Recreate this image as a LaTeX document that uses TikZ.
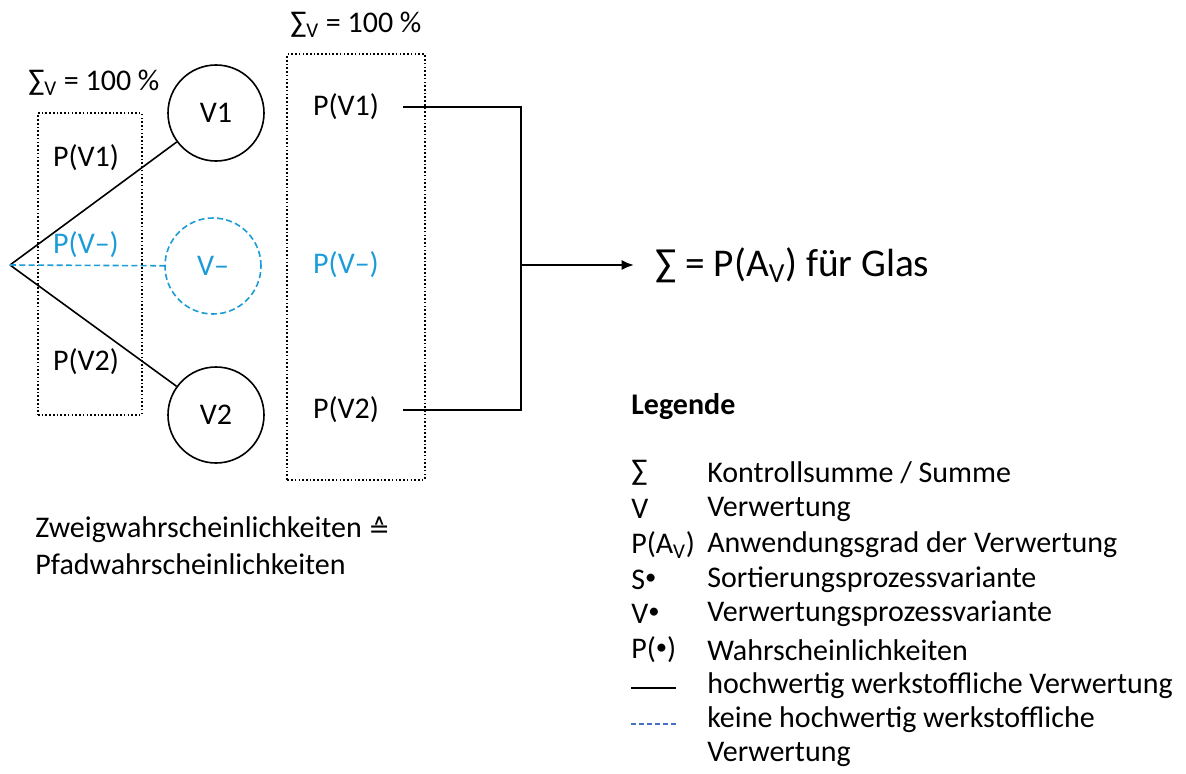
\documentclass[tikz,border=0pt]{standalone}
\usepackage{fontspec}
\setmainfont{Carlito}
\newfontfamily\symfont{DejaVu Sans}
\usetikzlibrary{arrows.meta}
\definecolor{vblue}{HTML}{1B9CD8}
\definecolor{lblue}{HTML}{4472C4}
\newcommand{\summe}{∑}
\newcommand{\pkt}{\raisebox{3.5pt}{\fontsize{17}{20}\selectfont•}}
\tikzset{
    vcircle/.style={draw, circle, line width=1.2pt, minimum size=72pt, inner sep=0pt},
    vdash/.style={dash pattern=on 4.5pt off 2.5pt},
    pbox/.style={draw, line width=1.3pt, dash pattern=on 1.2pt off 1.6pt},
    txt/.style={inner sep=0pt},
}
\begin{document}
\begin{tikzpicture}[x=0.75pt, y=-0.75pt, >={Latex[length=9pt,width=7.5pt]}, font=\fontsize{22.5}{27}\selectfont]
    \useasboundingbox (0,0) rectangle (1186,774);

        % Define the branch point and the circles of the variants
        \coordinate (S) at (10,265);
        \node[vcircle] (V1) at (216,113) {V1};
        \node[vcircle, vblue, vdash] (Vm) at (213,266) {V--};
        \node[vcircle] (V2) at (216,415) {V2};

        % Define the dotted boxes
        \node[pbox, minimum width=78pt, minimum height=226pt] (B1) at (90,264) {};
        \node[pbox, minimum width=103pt, minimum height=319pt] (B2) at (356,267) {};
        \node[txt, anchor=south west] (K1) at (28,96) {\summe\textsubscript{V} = 100 \%};
        \node[txt, anchor=south west] (K2) at (290,38) {\summe\textsubscript{V} = 100 \%};

        % Draw the branches
        \draw[line width=1.2pt] (S) -- (V1);
        \draw[line width=1.2pt] (S) -- (V2);
        \draw[vblue, line width=1.2pt, vdash] (S) -- (Vm);

        % Probabilities in the first box
        \node[txt] (A1) at (86,158) {P(V1)};
        \node[txt, vblue] (A2) at (86,245) {P(V--)};
        \node[txt] (A3) at (86,362) {P(V2)};

        % Probabilities in the second box
        \node[txt] (C1) at (346,107) {P(V1)};
        \node[txt, vblue] (C2) at (346,265) {P(V--)};
        \node[txt] (C3) at (346,410) {P(V2)};

        % Sum of the paths
        \coordinate (P1) at (403,107);
        \coordinate (P2) at (403,410);
        \coordinate (J) at (521,265);
        \node[txt, anchor=west, font=\fontsize{29.5}{35}\selectfont] (R) at (655,265) {\summe{} = P(A\textsubscript{V}) für Glas};
        \draw[line width=1pt] (P1) -| (J) |- (P2);
        \draw[line width=1pt, ->] (J) -- ([xshift=-16pt]R.west);

        % Note below the boxes
        \node[txt, anchor=west] (N1) at (35,530) {Zweigwahrscheinlichkeiten {\symfont\fontsize{19}{22}\selectfont ≙}};
        \node[txt, anchor=west] (N2) at (35,564) {Pfadwahrscheinlichkeiten};

        % Legend
        \node[txt, anchor=west, font=\fontsize{22.5}{27}\selectfont\bfseries] (L0) at (631,407) {Legende};
        \foreach \sym/\desc/\y in {{\summe}/{Kontrollsumme / Summe}/473,
                                   V/Verwertung/509,
                                   {P(A\textsubscript{V})}/{Anwendungsgrad der Verwertung}/545,
                                   S\pkt/Sortierungsprozessvariante/580,
                                   V\pkt/Verwertungsprozessvariante/614,
                                   P(\pkt)/Wahrscheinlichkeiten/650,
                                   {}/{hochwertig werkstoffliche Verwertung}/686,
                                   {}/{keine hochwertig werkstoffliche}/720,
                                   {}/Verwertung/754} {
            \node[txt, anchor=west] at (631,\y) {\sym};
            \node[txt, anchor=west] at (707,\y) {\desc};
        }
        \coordinate (La) at (631,688);
        \coordinate (Lb) at (676,688);
        \coordinate (Lc) at (631,724);
        \coordinate (Ld) at (676,724);
        \draw[line width=1.2pt] (La) -- (Lb);
        \draw[lblue, line width=1.2pt, dash pattern=on 4pt off 2pt] (Lc) -- (Ld);

\end{tikzpicture}
\end{document}
